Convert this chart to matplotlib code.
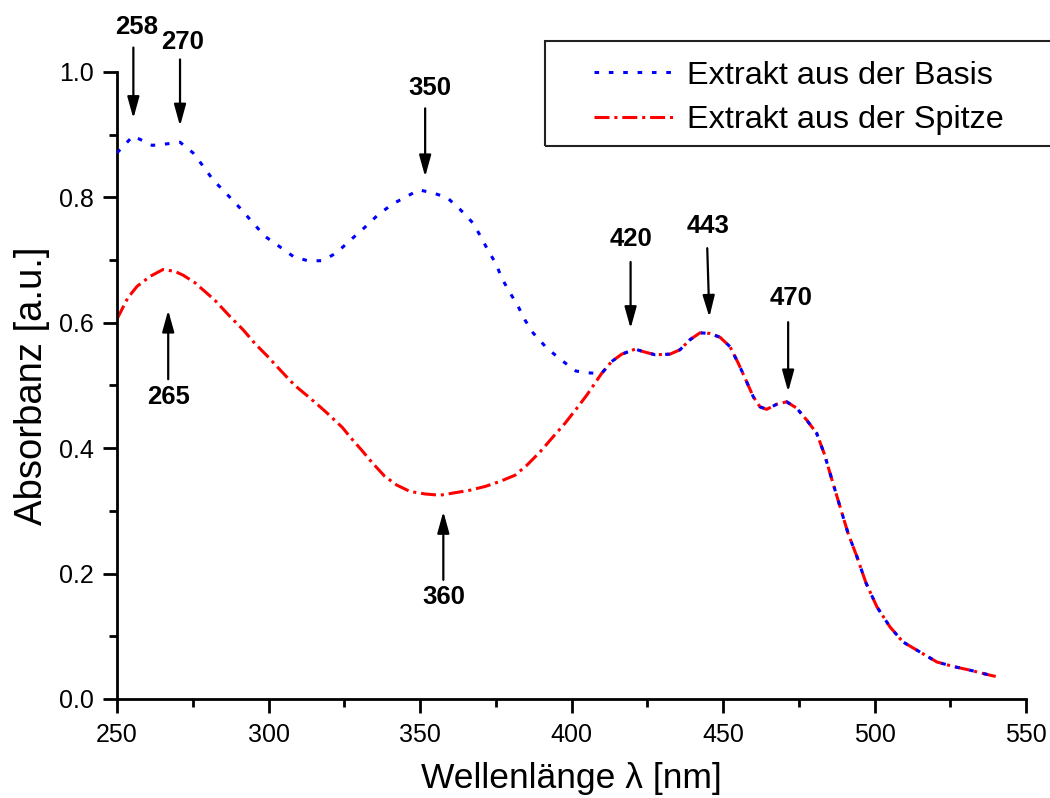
import numpy as np
import matplotlib
matplotlib.use("Agg")
import matplotlib.pyplot as plt
from matplotlib.patches import Rectangle
from matplotlib.ticker import MultipleLocator, FormatStrFormatter

plt.rcParams['font.family'] = ['Liberation Sans', 'DejaVu Sans']

# ---- data ----
wl_basis_own = [250, 255.3, 261.6, 265.8, 270.8, 275.1, 278.4, 281.7, 286.3, 290.6,
                294.6, 298.8, 303.8, 308.4, 313, 317.7, 322.3, 326.6, 331.5, 336.1,
                340.8, 345, 349.7, 354.3, 358.9, 363.2, 367.5, 370.1, 372.4, 375.1,
                377, 379.7, 382.3, 384.7, 387.3, 391.6, 396.5, 401.5, 406.1]
abs_basis_own = [0.871, 0.898, 0.883, 0.885, 0.888, 0.871, 0.850, 0.828, 0.805, 0.783,
                 0.761, 0.738, 0.721, 0.705, 0.699, 0.699, 0.711, 0.730, 0.751, 0.772,
                 0.789, 0.800, 0.812, 0.807, 0.800, 0.781, 0.759, 0.737, 0.716, 0.694,
                 0.671, 0.648, 0.627, 0.604, 0.584, 0.561, 0.541, 0.523, 0.520]

wl_spitze_own = [250, 253.6, 256.6, 260.9, 265.2, 269.1, 271.8, 275.7, 279, 282.3,
                 287.3, 291.6, 295.5, 299.8, 303.8, 308.7, 313.7, 318.9, 324.4, 326.9,
                 330.9, 334.2, 338.4, 342.4, 346.7, 351.7, 356.6, 361.6, 366.5, 371.5,
                 376.4, 381.4, 385.3, 389.6, 393.9, 397.9, 401.8, 405.1]
abs_spitze_own = [0.606, 0.640, 0.658, 0.674, 0.685, 0.682, 0.676, 0.664, 0.650, 0.636,
                  0.610, 0.589, 0.567, 0.546, 0.525, 0.500, 0.480, 0.458, 0.433, 0.418,
                  0.396, 0.377, 0.355, 0.341, 0.331, 0.327, 0.325, 0.329, 0.333, 0.339,
                  0.347, 0.357, 0.373, 0.394, 0.418, 0.440, 0.464, 0.485]

# common part (both extracts overlap above ~410 nm)
wl_common = [409.9, 413.2, 416.6, 421, 423.7, 427.6, 432.5, 435.8, 439.1, 442.4,
             445.7, 449, 452.3, 455.1, 457.8, 460, 462.2, 464.4, 467.7, 471,
             474.3, 477.6, 480.9, 483.5, 486, 488.6, 491.3, 494.2, 497.2, 500.8,
             505.1, 509.4, 515, 520.6, 525.9, 531.5, 538.1, 540]
abs_common = [0.519, 0.538, 0.550, 0.558, 0.554, 0.549, 0.550, 0.557, 0.573, 0.584,
              0.583, 0.577, 0.562, 0.535, 0.506, 0.482, 0.466, 0.462, 0.470, 0.474,
              0.464, 0.445, 0.424, 0.390, 0.349, 0.307, 0.264, 0.227, 0.185, 0.147,
              0.115, 0.091, 0.075, 0.059, 0.052, 0.046, 0.038, 0.036]

labels = ["Extrakt aus der Basis", "Extrakt aus der Spitze"]

# peak annotations: label, text pos, arrow tail, arrow head
peak_labels = ["258", "270", "350", "420", "443", "470", "265", "360"]
peak_text_xy = [(256.4, 1.072), (271.7, 1.048), (353.3, 0.974), (419.7, 0.734),
                (445.0, 0.755), (472.4, 0.640), (267.1, 0.481), (357.8, 0.162)]
peak_tail_xy = [(255.4, 1.039), (270.8, 1.020), (351.7, 0.942), (419.5, 0.697),
                (444.8, 0.719), (471.5, 0.601), (266.9, 0.510), (357.7, 0.190)]
peak_head_xy = [(255.4, 0.926), (270.8, 0.914), (351.7, 0.833), (419.5, 0.591),
                (445.5, 0.609), (471.5, 0.490), (266.9, 0.620), (357.7, 0.299)]

wl_basis = np.concatenate([wl_basis_own, wl_common])
abs_basis = np.concatenate([abs_basis_own, abs_common])
wl_spitze = np.concatenate([wl_spitze_own, wl_common])
abs_spitze = np.concatenate([abs_spitze_own, abs_common])

# ---- figure ----
fig = plt.figure(figsize=(10.5, 7.98), dpi=100)
ax = fig.add_axes([117/1050, 99/798, (1026-117)/1050, (699-72)/798])

l2, = ax.plot(wl_spitze, abs_spitze, color='#ff0000', lw=2.2,
              linestyle=(0, (4.9, 1.6, 1.0, 1.6)), label=labels[1], zorder=2)
l1, = ax.plot(wl_basis, abs_basis, color='#0000ff', lw=2.2,
              linestyle=(0, (1.5, 3.2)), label=labels[0], zorder=3)

ax.set_xlim(250, 550)
ax.set_ylim(0, 1.0)
ax.xaxis.set_major_locator(MultipleLocator(50))
ax.xaxis.set_minor_locator(MultipleLocator(25))
ax.yaxis.set_major_locator(MultipleLocator(0.2))
ax.yaxis.set_minor_locator(MultipleLocator(0.1))
ax.yaxis.set_major_formatter(FormatStrFormatter('%.1f'))

for s in ['top', 'right']:
    ax.spines[s].set_visible(False)
for s in ['left', 'bottom']:
    ax.spines[s].set_linewidth(2)
ax.tick_params(which='major', direction='out', length=10, width=2,
               labelsize=18, pad=7)
ax.tick_params(which='minor', direction='out', length=5.5, width=2)

ax.set_xlabel("Wellenlänge λ [nm]", fontsize=25.5, labelpad=11)
ax.set_ylabel("Absorbanz [a.u.]", fontsize=27.5, labelpad=6)

arrow_style = "-|>,head_length=0.65,head_width=0.18"
for lab, txy, tail, head in zip(peak_labels, peak_text_xy, peak_tail_xy, peak_head_xy):
    ax.annotate('', xy=head, xytext=tail,
                arrowprops=dict(arrowstyle=arrow_style, color='black', lw=1.6,
                                mutation_scale=20, shrinkA=0, shrinkB=0),
                annotation_clip=False)
    ax.text(txy[0], txy[1], lab, fontsize=18.5, fontweight='bold',
            ha='center', va='center', clip_on=False)

# legend box (extends past right edge as in reference)
fig.patches.append(Rectangle((545/1050, 1 - 146/798), 0.6, 105/798,
                             transform=fig.transFigure, fill=False,
                             edgecolor='#222222', lw=1.5))
leg = fig.legend(handles=[l1, l2], labels=labels, loc='upper left',
                 bbox_to_anchor=(571/1050, 1 - 38/798), frameon=False,
                 fontsize=23.3, handlelength=2.55, handletextpad=0.35,
                 labelspacing=0.45, borderpad=0.2)

fig.savefig("out.png", dpi=100)
